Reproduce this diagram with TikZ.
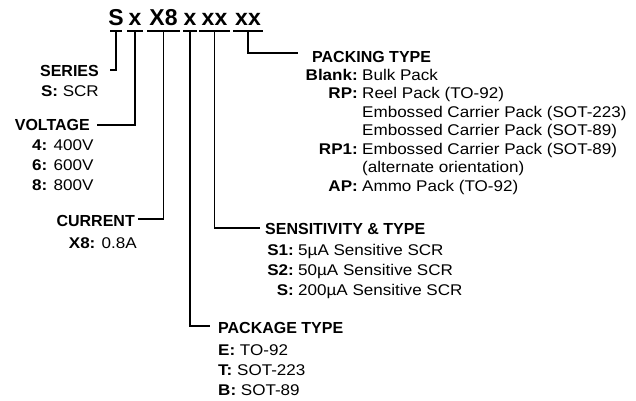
\documentclass[tikz,border=0pt]{standalone}
\usepackage{fontspec}
\setmainfont{Liberation Sans}
\newfontfamily\bodyfont[FakeStretch=1.1]{Liberation Sans}
\begin{document}
\begin{tikzpicture}[x=1pt,y=-1pt,
  hd/.style={font=\fontsize{16}{18}\selectfont\bfseries, inner sep=0pt},
  bd/.style={font=\bodyfont\fontsize{15.5}{18}\selectfont, inner sep=0pt},
  bl/.style={font=\bodyfont\fontsize{15.5}{18}\selectfont\bfseries, inner sep=0pt},
  ttl/.style={font=\fontsize{23}{26}\selectfont\bfseries, inner sep=0pt, anchor=base},
  conn/.style={line width=1.2pt},
  uline/.style={line width=2pt}]
\useasboundingbox (0,0) rectangle (636,400);

% title groups
\node[ttl] (t1) at (116,25) {S};
\node[ttl] (t2) at (135,25) {x};
\node[ttl] (t3) at (163.5,25) {X8};
\node[ttl] (t4) at (190,25) {x};
\node[ttl] (t5) at (214.5,25) {xx};
\node[ttl] (t6) at (248,25) {xx};

\draw[uline] ([shift={(-6pt,-6pt)}]t1.base) -- ([shift={(6pt,-6pt)}]t1.base);
\draw[uline] ([shift={(-8pt,-6pt)}]t2.base) -- ([shift={(8pt,-6pt)}]t2.base);
\draw[uline] ([shift={(-16.5pt,-6pt)}]t3.base) -- ([shift={(16.5pt,-6pt)}]t3.base);
\draw[uline] ([shift={(-7pt,-6pt)}]t4.base) -- ([shift={(7pt,-6pt)}]t4.base);
\draw[uline] ([shift={(-15.5pt,-6pt)}]t5.base) -- ([shift={(15.5pt,-6pt)}]t5.base);
\draw[uline] ([shift={(-15pt,-6pt)}]t6.base) -- ([shift={(15pt,-6pt)}]t6.base);

% SERIES
\node[hd, anchor=base east] (series) at (99,76) {SERIES};
\node[bd, anchor=base east] (seriesS) at (99,96) {\textbf{S:} SCR};
\coordinate (e1) at (110,70);
\draw[conn] ([yshift=-6pt]t1.base) |- (e1);

% VOLTAGE
\node[hd, anchor=base east] (voltage) at (90,130) {VOLTAGE};
\node[bd, anchor=base west] (v4) at (32,150) {\textbf{4:} 400V};
\node[bd, anchor=base west] (v6) at (32,170) {\textbf{6:} 600V};
\node[bd, anchor=base west] (v8) at (32,190) {\textbf{8:} 800V};
\coordinate (e2) at (97,125);
\draw[conn] ([yshift=-6pt]t2.base) |- (e2);

% CURRENT
\node[hd, anchor=base east] (current) at (135,226) {CURRENT};
\node[bd, anchor=base east] (cX8) at (137,248) {\textbf{X8:} 0.8A};
\coordinate (e3) at (138,219);
\draw[conn] ([yshift=-6pt]t3.base) |- (e3);

% PACKAGE TYPE
\node[hd, anchor=base west] (package) at (218,333) {PACKAGE TYPE};
\node[bd, anchor=base west] (pE) at (218,355) {\textbf{E:} TO-92};
\node[bd, anchor=base west] (pT) at (218,375) {\textbf{T:} SOT-223};
\node[bd, anchor=base west] (pB) at (218,395) {\textbf{B:} SOT-89};
\coordinate (e4) at (210,326);
\draw[conn] ([yshift=-6pt]t4.base) |- (e4);

% SENSITIVITY & TYPE
\node[hd, anchor=base west] (sens) at (265,234) {SENSITIVITY \& TYPE};
\node[bl, anchor=base east] (s1l) at (294,255) {S1:};
\node[bd, anchor=base west] (s1v) at (298,255) {5µA Sensitive SCR};
\node[bl, anchor=base east] (s2l) at (294,275) {S2:};
\node[bd, anchor=base west] (s2v) at (298,275) {50µA Sensitive SCR};
\node[bl, anchor=base east] (s3l) at (294,295) {S:};
\node[bd, anchor=base west] (s3v) at (298,295) {200µA Sensitive SCR};
\coordinate (e5) at (260,228);
\draw[conn] ([yshift=-6pt]t5.base) |- (e5);

% PACKING TYPE
\node[hd, anchor=base west] (packing) at (312,62) {PACKING TYPE};
\node[bl, anchor=base east] (k1l) at (358,80) {Blank:};
\node[bd, anchor=base west] (k1v) at (362,80) {Bulk Pack};
\node[bl, anchor=base east] (k2l) at (358,98.5) {RP:};
\node[bd, anchor=base west] (k2v) at (362,98.5) {Reel Pack (TO-92)};
\node[bd, anchor=base west] (k3v) at (362,117) {Embossed Carrier Pack (SOT-223)};
\node[bd, anchor=base west] (k4v) at (362,135.5) {Embossed Carrier Pack (SOT-89)};
\node[bl, anchor=base east] (k5l) at (358,154) {RP1:};
\node[bd, anchor=base west] (k5v) at (362,154) {Embossed Carrier Pack (SOT-89)};
\node[bd, anchor=base west] (k6v) at (362,172.5) {(alternate orientation)};
\node[bl, anchor=base east] (k7l) at (358,191) {AP:};
\node[bd, anchor=base west] (k7v) at (362,191) {Ammo Pack (TO-92)};
\coordinate (e6) at (298,53);
\draw[conn] ([yshift=-6pt]t6.base) |- (e6);
\end{tikzpicture}
\end{document}
